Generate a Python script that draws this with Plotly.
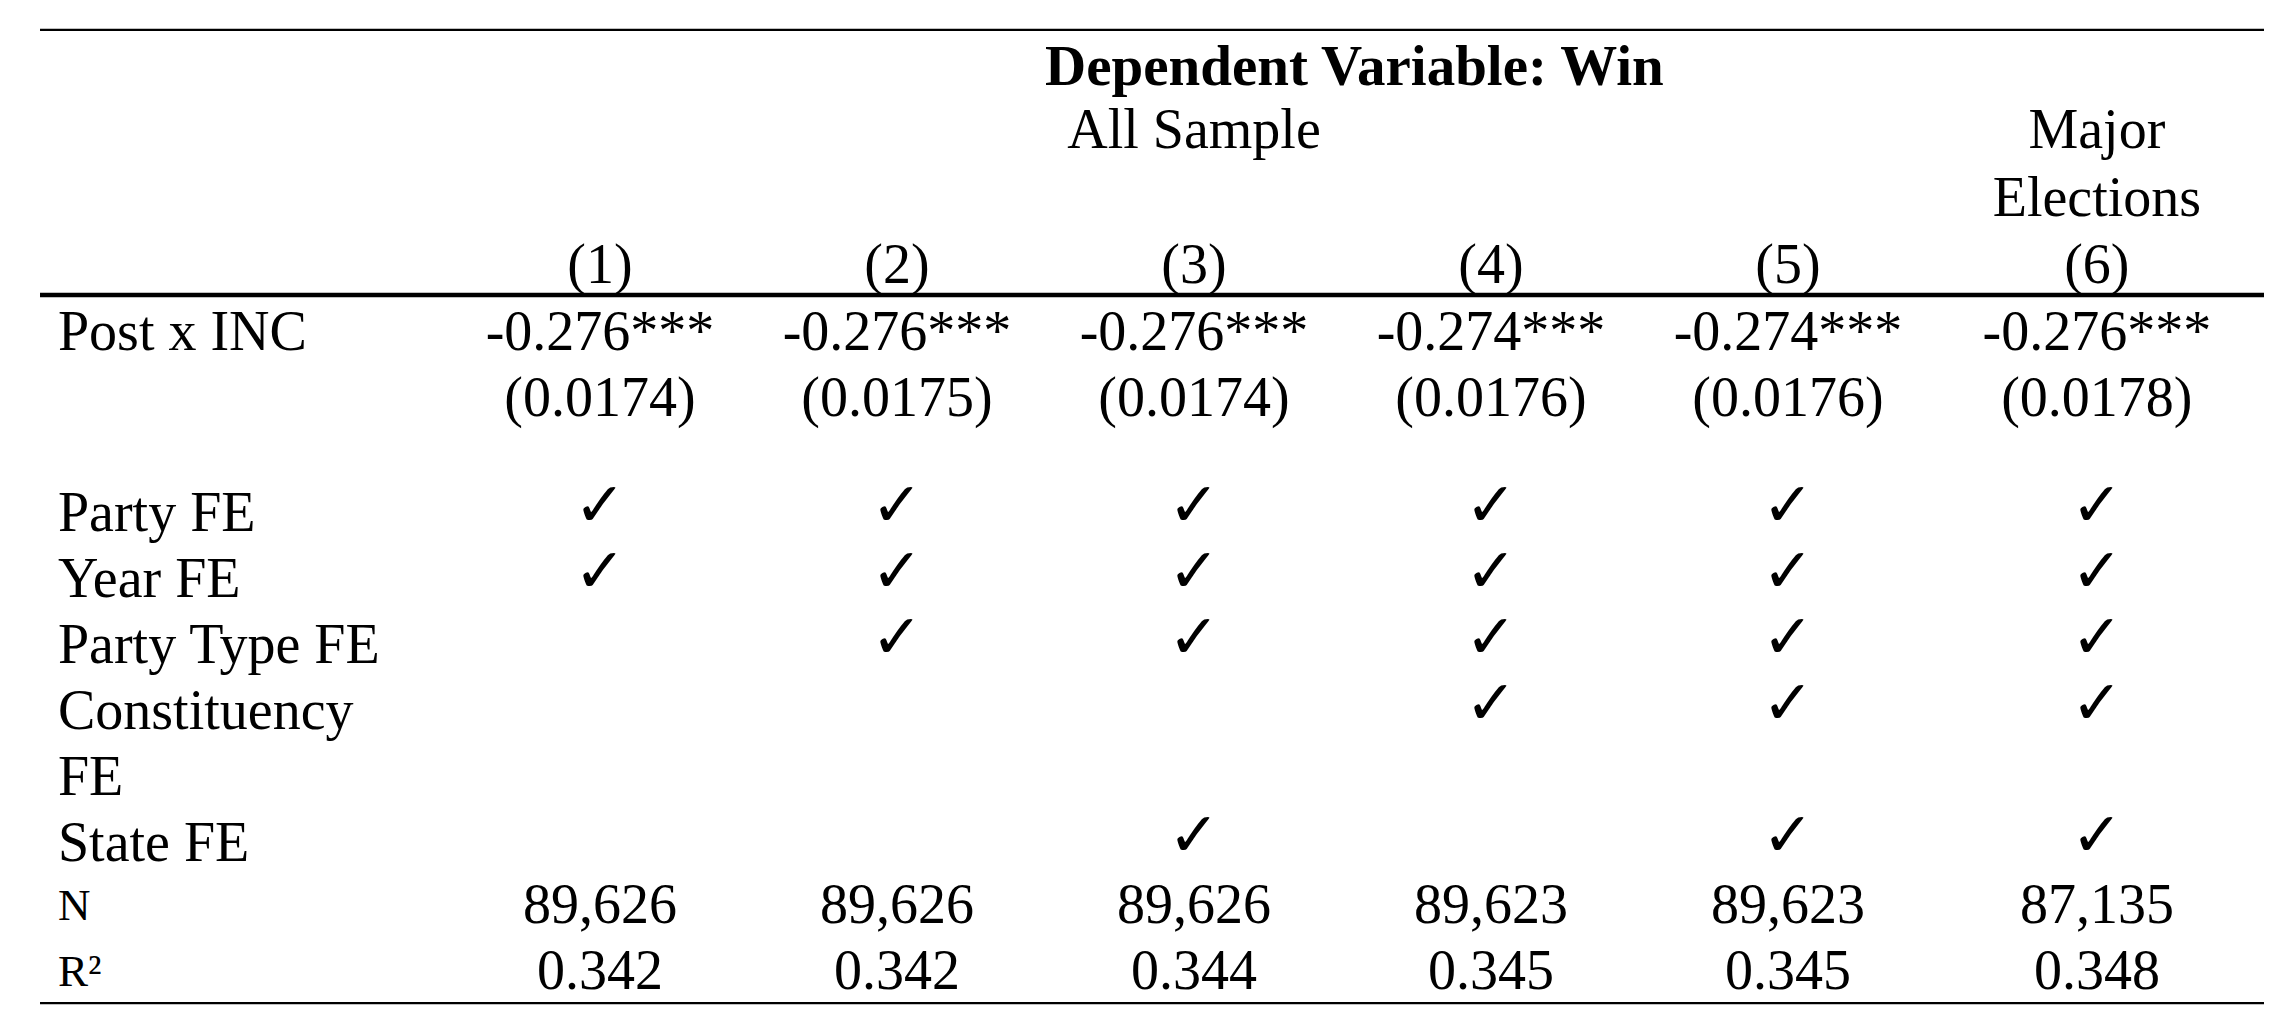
import textwrap

import plotly.graph_objects as go


# table content
dep_title = "Dependent Variable: Win"
group_labels = ["All Sample", "Major Elections"]
group_spans = [[1, 2, 3, 4, 5], [6]]
col_labels = ["(1)", "(2)", "(3)", "(4)", "(5)", "(6)"]

coef_label = "Post x INC"
coefs = ["-0.276***", "-0.276***", "-0.276***", "-0.274***", "-0.274***", "-0.276***"]
std_errs = ["(0.0174)", "(0.0175)", "(0.0174)", "(0.0176)", "(0.0176)", "(0.0178)"]

fe_labels = ["Party FE", "Year FE", "Party Type FE", "Constituency FE", "State FE"]
fe_checks = [
    [1, 1, 1, 1, 1, 1],
    [1, 1, 1, 1, 1, 1],
    [0, 1, 1, 1, 1, 1],
    [0, 0, 0, 1, 1, 1],
    [0, 0, 1, 0, 1, 1],
]

n_obs = [89626, 89626, 89626, 89623, 89623, 87135]
r_squared = [0.342, 0.342, 0.344, 0.345, 0.345, 0.348]


# layout helpers (x in column units, y in line units, downwards)
col_x = [1, 2, 3, 4, 5, 6.04]
label_x = -0.825
rule_x = [-0.8855, 6.6027]
FONT = "Times New Roman, Liberation Serif, serif"
SIZE = 56
BLACK = "#000000"


def text_trace(xs, ys, texts, pos="middle center", size=SIZE, family=FONT):
    return go.Scatter(
        x=xs, y=ys, text=texts, mode="text",
        textposition=pos,
        textfont=dict(family=family, size=size, color=BLACK),
        hoverinfo="skip", showlegend=False,
    )


fig = go.Figure()

# header
fig.add_trace(text_trace([3.54], [0], ["<b>" + dep_title + "</b>"], size=57))
for label, span in zip(group_labels, group_spans):
    cx = sum(col_x[c - 1] for c in span) / len(span)
    lines = textwrap.wrap(label, width=10 * len(span))
    fig.add_trace(text_trace([cx] * len(lines), [0.955 + 1.03 * i for i in range(len(lines))], lines))
fig.add_trace(text_trace(col_x, [3.015] * 6, col_labels))

# coefficient and standard errors
fig.add_trace(text_trace([label_x], [4.03], [coef_label], pos="middle right"))
fig.add_trace(text_trace(col_x, [4.03] * 6, coefs))
fig.add_trace(text_trace(col_x, [5.015] * 6, std_errs))

# fixed effects rows
row_y = 6.76
lab_x, lab_y, lab_t = [], [], []
chk_x, chk_y = [], []
for label, flags in zip(fe_labels, fe_checks):
    lines = textwrap.wrap(label, width=13)
    for i, line in enumerate(lines):
        lab_x.append(label_x)
        lab_y.append(row_y + i)
        lab_t.append(line)
    for c, f in enumerate(flags):
        if f:
            chk_x.append(col_x[c])
            chk_y.append(row_y - 0.1)
    row_y += len(lines)
fig.add_trace(text_trace(lab_x, lab_y, lab_t, pos="middle right"))
fig.add_trace(text_trace(chk_x, chk_y, ["<b>✓</b>"] * len(chk_x), size=62, family="DejaVu Sans"))

# statistics
fig.add_trace(text_trace([label_x, label_x], [12.7, 13.7], ["N", "R²"], pos="middle right", size=45))
fig.add_trace(text_trace(col_x, [12.7] * 6, [f"{n:,}" for n in n_obs]))
fig.add_trace(text_trace(col_x, [13.7] * 6, [f"{r:.3f}" for r in r_squared]))

# horizontal rules
for y, w in [(-0.614, 2.3), (3.402, 4.6), (14.13, 2.3)]:
    fig.add_shape(type="line", xref="x", yref="y", x0=rule_x[0], x1=rule_x[1], y0=y, y1=y,
                  line=dict(color=BLACK, width=w))

fig.update_layout(
    width=2294, height=1034, autosize=False,
    margin=dict(l=0, r=0, t=0, b=0),
    paper_bgcolor="white", plot_bgcolor="white",
    showlegend=False, hovermode=False,
    xaxis=dict(range=[-1.0202, 6.7037], visible=False, fixedrange=True),
    yaxis=dict(range=[14.598, -1.068], visible=False, fixedrange=True),
)

# drop the default page margin so the table sits flush in the window
fig.write_html("out.html", config={"displayModeBar": False},
               post_script="document.body.style.margin='0';")
